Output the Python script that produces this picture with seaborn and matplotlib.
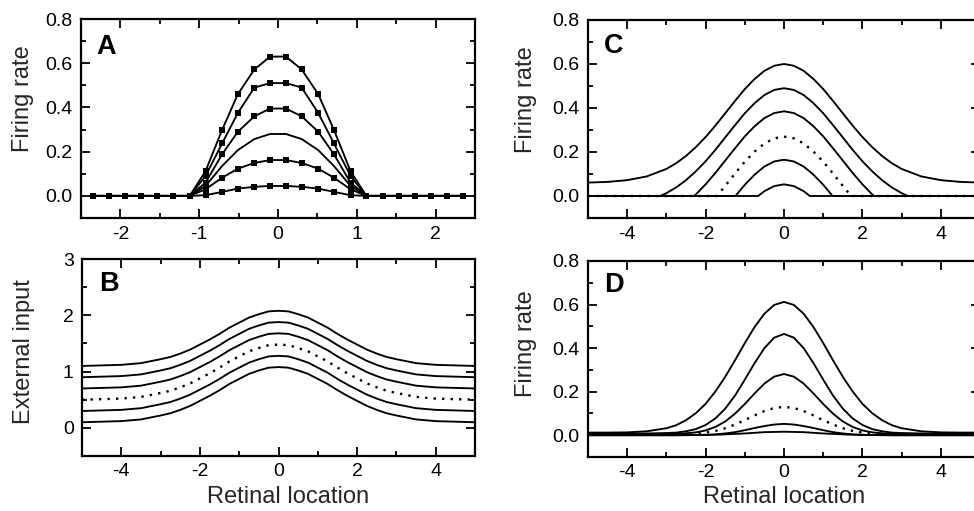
import matplotlib
matplotlib.use("Agg")
import matplotlib.pyplot as plt
import seaborn as sns
import pandas as pd
from matplotlib.ticker import MultipleLocator, FormatStrFormatter

# ---------------- data ----------------
# Panel A: firing-rate profiles sampled on a discrete grid (squares)
A_X = [-2.35, -2.15, -1.94, -1.74, -1.53, -1.33, -1.12, -0.92, -0.71, -0.51, -0.3, -0.1,
       0.1, 0.3, 0.51, 0.71, 0.92, 1.12, 1.33, 1.53, 1.74, 1.94, 2.15, 2.35]
A_1 = [0, 0, 0, 0, 0, 0, 0, 0.112, 0.298, 0.46, 0.572, 0.63,
       0.63, 0.572, 0.46, 0.298, 0.112, 0, 0, 0, 0, 0, 0, 0]
A_2 = [0, 0, 0, 0, 0, 0, 0, 0.09, 0.237, 0.375, 0.49, 0.51,
       0.51, 0.49, 0.375, 0.237, 0.09, 0, 0, 0, 0, 0, 0, 0]
A_3 = [0, 0, 0, 0, 0, 0, 0, 0.06, 0.188, 0.29, 0.36, 0.395,
       0.395, 0.36, 0.29, 0.188, 0.06, 0, 0, 0, 0, 0, 0, 0]
A_4 = [0, 0, 0, 0, 0, 0, 0, 0.045, 0.135, 0.207, 0.257, 0.28,
       0.28, 0.257, 0.207, 0.135, 0.045, 0, 0, 0, 0, 0, 0, 0]
A_5 = [0, 0, 0, 0, 0, 0, 0, 0.03, 0.082, 0.123, 0.149, 0.162,
       0.162, 0.149, 0.123, 0.082, 0.03, 0, 0, 0, 0, 0, 0, 0]
A_6 = [0, 0, 0, 0, 0, 0, 0, 0.003, 0.018, 0.033, 0.041, 0.045,
       0.045, 0.041, 0.033, 0.018, 0.003, 0, 0, 0, 0, 0, 0, 0]

# common grid for B, C (top curve) and D
X = [-5, -4.5, -4, -3.5, -3, -2.75, -2.5, -2.25, -2, -1.75, -1.5, -1.25, -1, -0.75, -0.5, -0.25, 0,
     0.25, 0.5, 0.75, 1, 1.25, 1.5, 1.75, 2, 2.25, 2.5, 2.75, 3, 3.5, 4, 4.5, 5]

# Panel B: external input
B_1 = [1.10, 1.11, 1.12, 1.15, 1.22, 1.26, 1.32, 1.39, 1.48, 1.57, 1.67, 1.78, 1.87, 1.96, 2.02, 2.07, 2.08,
       2.07, 2.02, 1.96, 1.87, 1.78, 1.67, 1.57, 1.48, 1.39, 1.32, 1.26, 1.22, 1.15, 1.12, 1.11, 1.10]
B_2 = [0.90, 0.91, 0.92, 0.95, 1.02, 1.06, 1.12, 1.19, 1.28, 1.37, 1.47, 1.58, 1.67, 1.76, 1.82, 1.87, 1.88,
       1.87, 1.82, 1.76, 1.67, 1.58, 1.47, 1.37, 1.28, 1.19, 1.12, 1.06, 1.02, 0.95, 0.92, 0.91, 0.90]
B_3 = [0.70, 0.71, 0.72, 0.75, 0.82, 0.86, 0.92, 0.99, 1.08, 1.17, 1.27, 1.38, 1.47, 1.56, 1.62, 1.67, 1.68,
       1.67, 1.62, 1.56, 1.47, 1.38, 1.27, 1.17, 1.08, 0.99, 0.92, 0.86, 0.82, 0.75, 0.72, 0.71, 0.70]
B_4 = [0.50, 0.51, 0.52, 0.55, 0.62, 0.66, 0.72, 0.79, 0.88, 0.97, 1.07, 1.18, 1.27, 1.36, 1.42, 1.47, 1.48,
       1.47, 1.42, 1.36, 1.27, 1.18, 1.07, 0.97, 0.88, 0.79, 0.72, 0.66, 0.62, 0.55, 0.52, 0.51, 0.50]
B_5 = [0.30, 0.31, 0.32, 0.35, 0.42, 0.46, 0.52, 0.59, 0.68, 0.77, 0.87, 0.98, 1.07, 1.16, 1.22, 1.27, 1.28,
       1.27, 1.22, 1.16, 1.07, 0.98, 0.87, 0.77, 0.68, 0.59, 0.52, 0.46, 0.42, 0.35, 0.32, 0.31, 0.30]
B_6 = [0.10, 0.11, 0.12, 0.15, 0.22, 0.26, 0.32, 0.39, 0.48, 0.57, 0.67, 0.78, 0.87, 0.96, 1.02, 1.07, 1.08,
       1.07, 1.02, 0.96, 0.87, 0.78, 0.67, 0.57, 0.48, 0.39, 0.32, 0.26, 0.22, 0.15, 0.12, 0.11, 0.10]

# Panel C: threshold-linear responses
C_1 = [0.061, 0.064, 0.072, 0.089, 0.123, 0.149, 0.182, 0.222, 0.268, 0.320, 0.376, 0.432, 0.486, 0.532,
       0.569, 0.592, 0.600, 0.592, 0.569, 0.532, 0.486, 0.432, 0.376, 0.320, 0.268, 0.222, 0.182, 0.149,
       0.123, 0.089, 0.072, 0.064, 0.061]
C_X2 = [-5, -3.16, -3, -2.75, -2.5, -2.25, -2, -1.75, -1.5, -1.25, -1, -0.75, -0.5, -0.25, 0,
        0.25, 0.5, 0.75, 1, 1.25, 1.5, 1.75, 2, 2.25, 2.5, 2.75, 3, 3.16, 5]
C_2 = [0, 0, 0.013, 0.039, 0.072, 0.112, 0.158, 0.210, 0.266, 0.322, 0.376, 0.422, 0.459, 0.482, 0.490,
       0.482, 0.459, 0.422, 0.376, 0.322, 0.266, 0.210, 0.158, 0.112, 0.072, 0.039, 0.013, 0, 0]
C_X3 = [-5, -2.29, -2.25, -2, -1.75, -1.5, -1.25, -1, -0.75, -0.5, -0.25, 0,
        0.25, 0.5, 0.75, 1, 1.25, 1.5, 1.75, 2, 2.25, 2.29, 5]
C_3 = [0, 0, 0.007, 0.053, 0.105, 0.161, 0.217, 0.271, 0.317, 0.354, 0.377, 0.385,
       0.377, 0.354, 0.317, 0.271, 0.217, 0.161, 0.105, 0.053, 0.007, 0, 0]
C_X4 = [-5, -1.71, -1.5, -1.25, -1, -0.75, -0.5, -0.25, 0, 0.25, 0.5, 0.75, 1, 1.25, 1.5, 1.71, 5]
C_4 = [0, 0, 0.046, 0.102, 0.156, 0.202, 0.239, 0.262, 0.270, 0.262, 0.239, 0.202, 0.156, 0.102, 0.046, 0, 0]
C_X5 = [-5, -1.24, -1, -0.75, -0.5, -0.25, 0, 0.25, 0.5, 0.75, 1, 1.24, 5]
C_5 = [0, 0, 0.051, 0.097, 0.134, 0.157, 0.165, 0.157, 0.134, 0.097, 0.051, 0, 0]
C_X6 = [-5, -0.66, -0.5, -0.25, 0, 0.25, 0.5, 0.66, 5]
C_6 = [0, 0, 0.022, 0.045, 0.053, 0.045, 0.022, 0, 0]

# Panel D: smooth nonlinearity responses
D_1 = [0.012, 0.012, 0.013, 0.018, 0.032, 0.046, 0.069, 0.101, 0.144, 0.201, 0.268, 0.344, 0.423, 0.497,
       0.558, 0.598, 0.612, 0.598, 0.558, 0.497, 0.423, 0.344, 0.268, 0.201, 0.144, 0.101, 0.069, 0.046,
       0.032, 0.018, 0.013, 0.012, 0.012]
D_2 = [0.008, 0.008, 0.008, 0.008, 0.010, 0.012, 0.018, 0.028, 0.047, 0.077, 0.122, 0.182, 0.255, 0.331,
       0.400, 0.448, 0.465, 0.448, 0.400, 0.331, 0.255, 0.182, 0.122, 0.077, 0.047, 0.028, 0.018, 0.012,
       0.010, 0.008, 0.008, 0.008, 0.008]
D_3 = [0.005, 0.005, 0.005, 0.005, 0.006, 0.007, 0.009, 0.013, 0.022, 0.038, 0.063, 0.099, 0.143, 0.192,
       0.237, 0.269, 0.281, 0.269, 0.237, 0.192, 0.143, 0.099, 0.063, 0.038, 0.022, 0.013, 0.009, 0.007,
       0.006, 0.005, 0.005, 0.005, 0.005]
D_4 = [0.002, 0.002, 0.002, 0.002, 0.002, 0.003, 0.004, 0.007, 0.012, 0.020, 0.032, 0.049, 0.069, 0.091,
       0.111, 0.125, 0.130, 0.125, 0.111, 0.091, 0.069, 0.049, 0.032, 0.020, 0.012, 0.007, 0.004, 0.003,
       0.002, 0.002, 0.002, 0.002, 0.002]
D_5 = [0, 0, 0, 0, 0, 0, 0.001, 0.001, 0.002, 0.004, 0.008, 0.014, 0.023, 0.033, 0.042, 0.049, 0.052,
       0.049, 0.042, 0.033, 0.023, 0.014, 0.008, 0.004, 0.002, 0.001, 0.001, 0, 0, 0, 0, 0, 0]
D_6 = [0, 0, 0, 0, 0, 0, 0, 0.001, 0.001, 0.002, 0.004, 0.006, 0.008, 0.011, 0.014, 0.015, 0.016,
       0.015, 0.014, 0.011, 0.008, 0.006, 0.004, 0.002, 0.001, 0.001, 0, 0, 0, 0, 0, 0, 0]

# ---------------- style ----------------
sns.set_theme(style="ticks")
plt.rcParams['font.family'] = ['Liberation Sans', 'DejaVu Sans']
plt.rcParams['axes.unicode_minus'] = False

fig = plt.figure(figsize=(9.74, 5.11), dpi=100)
axA = fig.add_axes([0.0832, 0.5734, 0.4045, 0.3894])
axB = fig.add_axes([0.0842, 0.1076, 0.4035, 0.3855])
axC = fig.add_axes([0.6037, 0.5734, 0.4025, 0.3875])
axD = fig.add_axes([0.6037, 0.1057, 0.4025, 0.3836])

LW = 1.35
DOT = (0, (1.0, 2.6))


def draw(ax, xs, ys, dotted=False, marker=None):
    df = pd.DataFrame({"x": xs, "y": ys})
    kw = {}
    if marker:
        kw = dict(marker=marker, markersize=4.5, markeredgewidth=0, markerfacecolor='black')
    sns.lineplot(data=df, x="x", y="y", ax=ax, color='black', linewidth=LW if not dotted else 1.7,
                 estimator=None, sort=False, **kw)
    if dotted:
        ax.lines[-1].set_linestyle(DOT)


for ys in [A_1, A_2, A_3, A_5, A_6]:
    draw(axA, A_X, ys, marker='s')
draw(axA, A_X, A_4)

for i, ys in enumerate([B_1, B_2, B_3, B_4, B_5, B_6]):
    draw(axB, X, ys, dotted=(i == 3))

draw(axC, X, C_1)
draw(axC, C_X2, C_2)
draw(axC, C_X3, C_3)
draw(axC, C_X4, C_4, dotted=True)
draw(axC, C_X5, C_5)
draw(axC, C_X6, C_6)

for i, ys in enumerate([D_1, D_2, D_3, D_4, D_5, D_6]):
    draw(axD, X, ys, dotted=(i == 3))

# ---------------- axes ----------------
TICK_FS = 14
YLABEL_FS = 17
XLABEL_FS = 17


def style(ax, xlim, ylim, xmaj, xmin, ymaj, ymin, yfmt, xpad):
    ax.set_xlim(*xlim)
    ax.set_ylim(*ylim)
    ax.xaxis.set_major_locator(MultipleLocator(xmaj))
    ax.xaxis.set_minor_locator(MultipleLocator(xmin))
    ax.yaxis.set_major_locator(MultipleLocator(ymaj))
    ax.yaxis.set_minor_locator(MultipleLocator(ymin))
    ax.yaxis.set_major_formatter(FormatStrFormatter(yfmt))
    ax.xaxis.set_major_formatter(FormatStrFormatter('%d'))
    ax.tick_params(which='both', direction='in', top=True, right=True, width=1.3,
                   colors='black', labelsize=TICK_FS)
    ax.tick_params(axis='y', which='major', pad=6)
    ax.tick_params(axis='x', which='major', pad=xpad)
    ax.tick_params(which='major', length=6.5)
    ax.tick_params(which='minor', length=3.5)
    for s in ax.spines.values():
        s.set_linewidth(1.6)
        s.set_color('black')
    ax.set_xlabel("")
    ax.set_ylabel("")


style(axA, (-2.5, 2.5), (-0.1, 0.8), 1, 0.5, 0.2, 0.1, '%.1f', 6)
style(axB, (-5, 5), (-0.5, 3), 2, 1, 1, 0.5, '%d', 5)
style(axC, (-5, 5), (-0.1, 0.8), 2, 1, 0.2, 0.1, '%.1f', 6)
style(axD, (-5, 5), (-0.1, 0.8), 2, 1, 0.2, 0.1, '%.1f', 5)

axA.set_ylabel("Firing rate", fontsize=YLABEL_FS)
axA.yaxis.set_label_coords(-0.12, 0.60)
axB.set_ylabel("External input", fontsize=YLABEL_FS)
axB.yaxis.set_label_coords(-0.12, 0.53)
axC.set_ylabel("Firing rate", fontsize=YLABEL_FS)
axC.yaxis.set_label_coords(-0.13, 0.60)
axD.set_ylabel("Firing rate", fontsize=YLABEL_FS)
axD.yaxis.set_label_coords(-0.13, 0.58)

axB.set_xlabel("Retinal location", fontsize=XLABEL_FS)
axB.xaxis.set_label_coords(0.524, -0.153)
axD.set_xlabel("Retinal location", fontsize=XLABEL_FS)
axD.xaxis.set_label_coords(0.50, -0.150)

for ax, letter, (lx, ly) in [(axA, "A", (0.040, 0.86)), (axB, "B", (0.043, 0.873)),
                             (axC, "C", (0.040, 0.869)), (axD, "D", (0.040, 0.878))]:
    ax.text(lx, ly, letter, transform=ax.transAxes, fontsize=19.5, fontweight='bold',
            ha='left', va='center', color='black')

fig.savefig("out.png", dpi=100)
